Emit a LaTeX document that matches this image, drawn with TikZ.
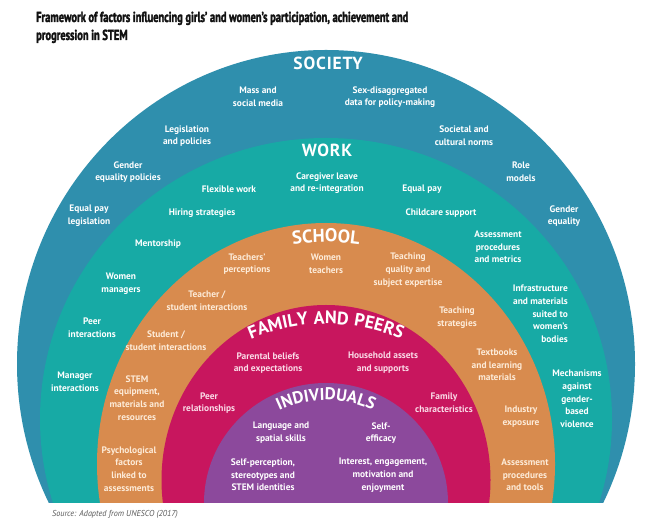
\documentclass[tikz,border=0pt]{standalone}
\usepackage{fontspec}
\setmainfont{PT Sans}
\newfontfamily\titlefont[FakeStretch=0.72, FakeBold=2]{PT Sans}
\newfontfamily\headfont[LetterSpace=5]{PT Sans}
\newfontfamily\srcfont[FakeStretch=0.95]{PT Sans}
\usetikzlibrary{decorations.text}
\definecolor{socC}{HTML}{2F8FAD}
\definecolor{workC}{HTML}{17AAA5}
\definecolor{schC}{HTML}{D88B4E}
\definecolor{famC}{HTML}{C8165E}
\definecolor{indC}{HTML}{8C499C}
\definecolor{schT}{HTML}{FDEBD8}
\definecolor{famT}{HTML}{FADCE8}
\definecolor{titleC}{HTML}{111111}
\definecolor{srcC}{HTML}{5A5A5A}
\tikzset{
  lbl/.style={align=center, inner sep=0pt, font=\bfseries\fontsize{9.4}{12.7}\selectfont},
  lW/.style={lbl, text=white},
  lS/.style={lbl, text=schT},
  lF/.style={lbl, text=famT},
  head/.style={inner sep=0pt, text=white, font=\headfont\bfseries\fontsize{17.5}{18}\selectfont},
  ttl/.style={inner sep=0pt, anchor=base west, text=titleC, font=\titlefont\bfseries\fontsize{14.5}{16}\selectfont}
}
\begin{document}
\begin{tikzpicture}[x=1pt,y=1pt]
\useasboundingbox (0,0) rectangle (660,521);
\fill[white] (0,0) rectangle (660,521);
\begin{scope}
\clip (0,18) rectangle (660,521);
\fill[socC] (326,157) ellipse [x radius=309, y radius=314];
\fill[workC] (326,102) ellipse [x radius=286, y radius=281];
\fill[schC] (326,57) ellipse [x radius=229, y radius=241];
\fill[famC] (326,41) ellipse [x radius=164.5, y radius=175];
\fill[indC] (326,18) ellipse [x radius=122, y radius=120];
\end{scope}

% title and source
\node[ttl] (t1) at (36,499) {Framework of factors influencing girls’ and women’s participation, achievement and};
\node[ttl] (t2) at (36,481) {progression in STEM};
\node[inner sep=0pt, anchor=base west, text=srcC, font=\srcfont\itshape\fontsize{8.6}{9}\selectfont] (src) at (52,5) {Source: Adapted from UNESCO (2017)};

% headings
\node[head, anchor=base] (hsoc) at (328,451) {SOCIETY};
\node[head, anchor=base] (hwork) at (327,364) {WORK};
\path[decorate, decoration={text along path, text align=center, text color=white,
  text={|\headfont\bfseries\fontsize{18.5}{18}\selectfont|SCHOOL}}]
  (326,49) ++(110:230) arc[start angle=110, end angle=70, radius=230];
\path[decorate, decoration={text along path, text align=center, text color=white,
  text={|\headfont\bfseries\fontsize{18}{18}\selectfont|FAMILY AND PEERS}}]
  (326,3) ++(122:194) arc[start angle=122, end angle=58, radius=194];
\path[decorate, decoration={text along path, text align=center, text color=white,
  text={|\headfont\bfseries\fontsize{17}{18}\selectfont|INDIVIDUALS}}]
  (326,11) ++(135:110) arc[start angle=135, end angle=45, radius=110];

% society
\node[lW] (s1) at (258,424) {Mass and\\social media};
\node[lW] (s2) at (390,424) {Sex-disaggregated\\data for policy-making};
\node[lW] (s3) at (187,385) {Legislation\\and policies};
\node[lW] (s4) at (464,385) {Societal and\\cultural norms};
\node[lW] (s5) at (128,349) {Gender\\equality policies};
\node[lW] (s6) at (521,349) {Role\\models};
\node[lW] (s7) at (89,305) {Equal pay\\legislation};
\node[lW] (s8) at (564,305) {Gender\\equality};

% work
\node[lW] (w1) at (327,338) {Caregiver leave\\and re-integration};
\node[lW] (w2) at (229,332) {Flexible work};
\node[lW] (w3) at (422,332) {Equal pay};
\node[lW] (w4) at (202,308) {Hiring strategies};
\node[lW] (w5) at (441,308) {Childcare support};
\node[lW] (w6) at (158,277) {Mentorship};
\node[lW] (w7) at (498,274) {Assessment\\procedures\\and metrics};
\node[lW] (w8) at (121,237) {Women\\managers};
\node[lW, align=right, anchor=east] (w9) at (568,207) {Infrastructure\\and materials\\suited to\\women’s\\bodies};
\node[lW] (w10) at (92,193) {Peer\\interactions};
\node[lW] (w11) at (75,139) {Manager\\interactions};
\node[lW] (w12) at (577,122) {Mechanisms\\against\\gender-\\based\\violence};

% school
\node[lS] (c1) at (247,257) {Teachers’\\perceptions};
\node[lS] (c2) at (326,257) {Women\\teachers};
\node[lS] (c3) at (408,251) {Teaching\\quality and\\subject expertise};
\node[lS] (c4) at (207,220) {Teacher /\\student interactions};
\node[lS] (c5) at (457,203) {Teaching\\strategies};
\node[lS] (c6) at (166,180) {Student /\\student interactions};
\node[lS] (c7) at (497,156) {Textbooks\\and learning\\materials};
\node[lS] (c8) at (137,123) {STEM\\equipment,\\materials and\\resources};
\node[lS] (c9) at (521,104) {Industry\\exposure};
\node[lS] (c10) at (129,52) {Psychological\\factors\\linked to\\assessments};
\node[lS] (c11) at (525,46) {Assessment\\procedures\\and tools};

% family
\node[lF] (f1) at (268,158) {Parental beliefs\\and expectations};
\node[lF] (f2) at (383,158) {Household assets\\and supports};
\node[lF] (f3) at (209,118) {Peer\\relationships};
\node[lF] (f4) at (444,118) {Family\\characteristics};

% individuals
\node[lW] (i1) at (281,88) {Language and\\spatial skills};
\node[lW] (i2) at (381,88) {Self-\\efficacy};
\node[lW] (i3) at (263,46) {Self-perception,\\stereotypes and\\STEM identities};
\node[lW] (i4) at (383,46) {Interest, engagement,\\motivation and\\enjoyment};
\end{tikzpicture}
\end{document}
